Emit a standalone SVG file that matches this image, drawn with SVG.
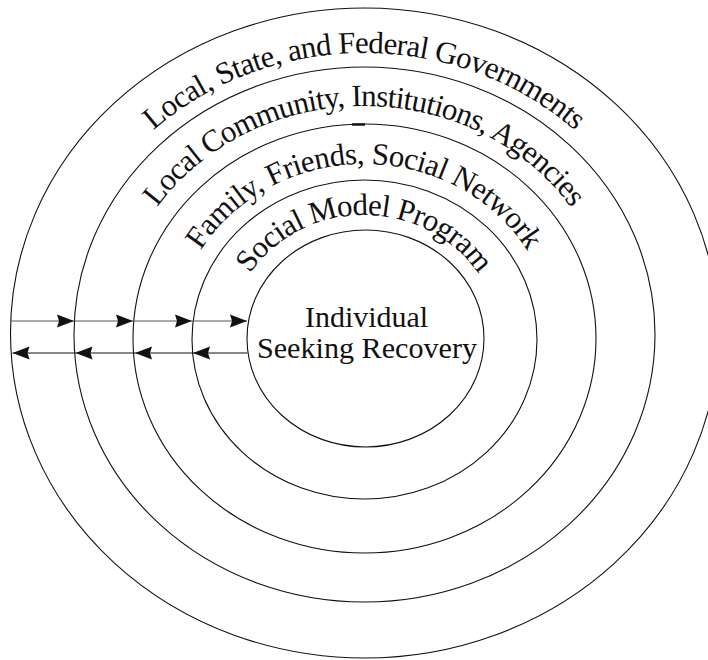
<svg xmlns="http://www.w3.org/2000/svg" width="708" height="660" viewBox="0 0 708 660">
  <style>
    .ring { fill: none; stroke: #111; stroke-width: 1.1; }
    .label { font-family: "Liberation Serif", "Times New Roman", serif; font-size: 31px; fill: #111; }
    .center { font-family: "Liberation Serif", "Times New Roman", serif; font-size: 29px; fill: #111; text-anchor: middle; }
    .flow-in { stroke: #555; stroke-width: 1.2; fill: none; marker-end: url(#head); }
    .flow-out { stroke: #111; stroke-width: 1.2; fill: none; marker-end: url(#head); }
  </style>
  <defs>
    <marker id="head" markerUnits="userSpaceOnUse" markerWidth="20" markerHeight="16" viewBox="-18 -8 20 16" refX="0" refY="0" orient="auto" overflow="visible">
      <path d="M0,0 L-17,-6.6 L-15,0 L-17,6.6 Z" fill="#111"/>
    </marker>
    <!-- baseline arcs for the ring captions (upper halves of ellipses) -->
    <path id="arc-gov" d="M58,335 A306,282 0 0 1 670,335"/>
    <path id="arc-community" d="M114,337 A250,231 0 0 1 614,337"/>
    <path id="arc-family" d="M174,341 A190,177 0 0 1 554,341"/>
    <path id="arc-program" d="M229,341 A135,126 0 0 1 499,341"/>
  </defs>

  <rect width="708" height="660" fill="#fff"/>

  <g id="governments">
    <ellipse class="ring" cx="364.5" cy="333" rx="354" ry="325"/>
    <text class="label" letter-spacing="-0.7"><textPath href="#arc-gov" startOffset="50%" text-anchor="middle">Local, State, and Federal Governments</textPath></text>
  </g>

  <g id="community">
    <ellipse class="ring" cx="364.5" cy="334.5" rx="290.5" ry="267.5"/>
    <text class="label" letter-spacing="-0.8"><textPath href="#arc-community" startOffset="50%" text-anchor="middle">Local Community, Institutions, Agencies</textPath></text>
  </g>

  <g id="family">
    <ellipse class="ring" cx="364.5" cy="338.5" rx="231.5" ry="214.5"/>
    <line x1="352" y1="124.5" x2="365" y2="124.5" stroke="#111" stroke-width="2.4"/>
    <text class="label" letter-spacing="-0.6"><textPath href="#arc-family" startOffset="50%" text-anchor="middle">Family, Friends, Social Network</textPath></text>
  </g>

  <g id="program">
    <ellipse class="ring" cx="364.5" cy="339.5" rx="172.5" ry="159.5"/>
    <text class="label" letter-spacing="-0.7"><textPath href="#arc-program" startOffset="50%" text-anchor="middle">Social Model Program</textPath></text>
  </g>

  <g id="individual">
    <ellipse class="ring" cx="365.5" cy="338.5" rx="118.5" ry="108.5"/>
    <text class="center" x="366.5" y="327" textLength="123" lengthAdjust="spacingAndGlyphs">Individual</text>
    <text class="center" x="367" y="358" textLength="220" lengthAdjust="spacingAndGlyphs">Seeking Recovery</text>
  </g>

  <g id="connectors">
    <!-- inward flow, outer ring to individual -->
    <line class="flow-in" x1="10.5" y1="321" x2="74" y2="321"/>
    <line class="flow-in" x1="74" y1="321" x2="133" y2="321"/>
    <line class="flow-in" x1="133" y1="321" x2="192" y2="321"/>
    <line class="flow-in" x1="192" y1="321" x2="247" y2="321"/>
    <!-- outward flow, individual to outer ring -->
    <line class="flow-out" x1="247.5" y1="353" x2="193" y2="353"/>
    <line class="flow-out" x1="193" y1="353" x2="135" y2="353"/>
    <line class="flow-out" x1="135" y1="353" x2="75.5" y2="353"/>
    <line class="flow-out" x1="75.5" y1="353" x2="12.5" y2="353"/>
  </g>
</svg>
